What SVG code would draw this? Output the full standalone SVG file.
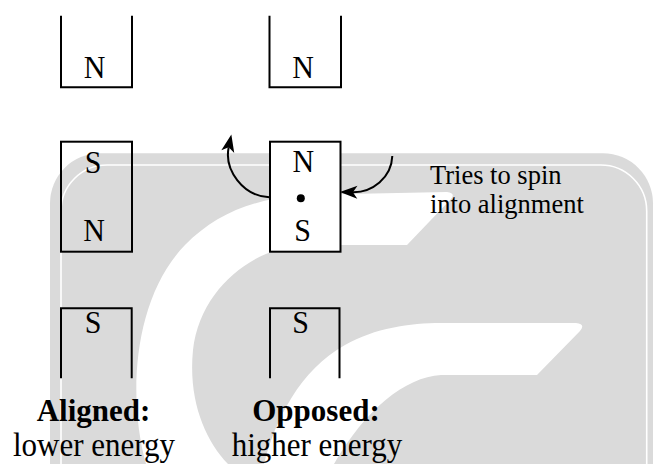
<svg xmlns="http://www.w3.org/2000/svg" width="654" height="464" viewBox="0 0 654 464">
  <style>
    .mag { fill: none; stroke: #000; stroke-width: 2; }
    .magw { fill: #fff; stroke: #000; stroke-width: 2; }
    .pole { font-family: "Liberation Serif", "Times New Roman", serif; font-size: 30px; text-anchor: middle; fill: #000; }
    .cap { font-family: "Liberation Serif", "Times New Roman", serif; font-size: 31px; text-anchor: middle; fill: #000; }
    .bold { font-weight: bold; }
    .note { font-family: "Liberation Serif", "Times New Roman", serif; font-size: 26.5px; fill: #000; }
    .arc { fill: none; stroke: #000; stroke-width: 2; }
    .wm { fill: #dadada; }
    .wmw { fill: #fff; }
  </style>
  <defs>
    <marker id="head" markerUnits="userSpaceOnUse" viewBox="-18 -8 20 16" markerWidth="20" markerHeight="16" refX="-13" refY="0" orient="auto">
      <path d="M0,0 L-17.5,-6.6 L-13,0 L-17.5,6.6 Z" fill="#000"/>
    </marker>
  </defs>

  <rect width="654" height="464" fill="#fff"/>

  <g id="watermark">
    <rect class="wm" x="50" y="153.3" width="603" height="400" rx="50" ry="50"/>
    <rect x="61" y="165" width="585.7" height="380" rx="46" ry="46" fill="none" stroke="#fff" stroke-width="1.6"/>
    <path class="wmw" d="M146,464 C128,400 132,300 185,245 C215,215 250,200 300,195 L447,192 Q456,193 451,199 L407,245 L300,245 C250,250 200,290 193,350 C188,400 205,440 228,464 Z"/>
    <path class="wmw" d="M264,464 C275,420 300,370 345,345 C375,328 410,323 441,323 L576,323 Q586,324 580,331 L537,375 L441,375 C405,377 365,410 334,464 Z"/>
  </g>

  <g id="aligned-top-magnet">
    <path class="mag" d="M61,15.7 V87.3 H132 V15.7"/>
    <text class="pole" transform="translate(94.5,78.3) scale(1,1.06)">N</text>
  </g>
  <g id="opposed-top-magnet">
    <path class="mag" d="M269.5,15.7 V87.3 H341 V15.7"/>
    <text class="pole" transform="translate(303,78.3) scale(1,1.06)">N</text>
  </g>

  <g id="aligned-spin">
    <rect class="mag" x="61" y="141.7" width="71" height="110"/>
    <text class="pole" transform="translate(93,172.5) scale(1,1.06)">S</text>
    <text class="pole" transform="translate(94,241) scale(1,1.06)">N</text>
  </g>
  <g id="opposed-spin">
    <rect class="magw" x="270" y="141.7" width="70.5" height="110"/>
    <text class="pole" transform="translate(303.3,172.3) scale(1,1.06)">N</text>
    <circle cx="300.8" cy="198.3" r="4" fill="#000"/>
    <text class="pole" transform="translate(302.5,241) scale(1,1.06)">S</text>
  </g>

  <g id="aligned-bottom-magnet">
    <path class="mag" d="M61,378.3 V308.3 H131.7 V378.3"/>
    <text class="pole" transform="translate(93,332.5) scale(1,1.06)">S</text>
  </g>
  <g id="opposed-bottom-magnet">
    <path class="mag" d="M270,378.3 V308.3 H339.5 V378.3"/>
    <text class="pole" transform="translate(300.5,332.5) scale(1,1.06)">S</text>
  </g>

  <g id="connectors">
    <path class="arc" d="M269.3,197.3 C243,196 224,170 228.7,147.3" marker-end="url(#head)"/>
    <path class="arc" d="M392.3,156 C391.5,178 372,192.5 352.9,192.2" marker-end="url(#head)"/>
  </g>

  <g id="caption-aligned">
    <text class="cap bold" x="93.5" y="420.7">Aligned:</text>
    <text class="cap" transform="translate(94,456) scale(1,1.06)">lower energy</text>
  </g>
  <g id="caption-opposed">
    <text class="cap bold" x="316" y="420.7">Opposed:</text>
    <text class="cap" transform="translate(317,456) scale(1,1.06)">higher energy</text>
  </g>
  <g id="note">
    <text class="note" transform="translate(430,184) scale(1,1.06)">Tries to spin</text>
    <text class="note" transform="translate(430,213.3) scale(1,1.06)">into alignment</text>
  </g>
</svg>
